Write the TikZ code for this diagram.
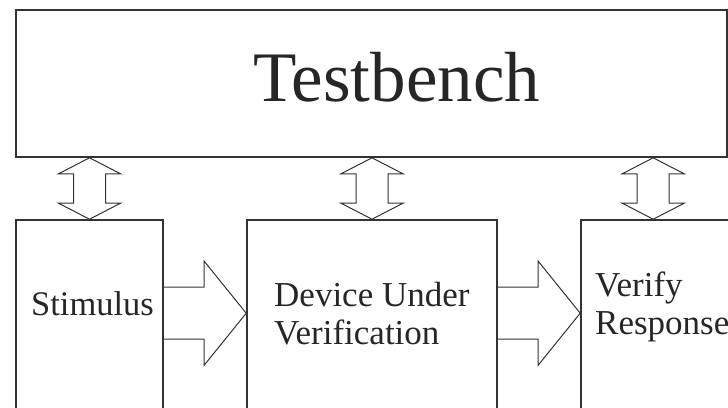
\documentclass[tikz,border=0pt]{standalone}
\usepackage{fontspec}
\setmainfont{Liberation Serif}
\usetikzlibrary{calc}

% double block arrow, #1 = upper tip, #2 = lower tip
\newcommand{\vblockarrow}[2]{%
\draw[blockarrow] (#1) -- ++(31,16) -- ++(-15,0) -- ($(#2)+(16,-16)$) -- ++(15,0) -- (#2)
  -- ++(-31,-16) -- ++(15,0) -- ($(#1)+(-16,16)$) -- ++(-15,0) -- cycle;}
% block arrow, #1 = tail (middle of shaft), #2 = tip
\newcommand{\hblockarrow}[2]{%
\draw[blockarrow] ($(#1)+(0,-26)$) -- ($(#2)+(-42,-26)$) -- ++(0,-26) -- (#2)
  -- ++(-42,52) -- ++(0,-26) -- ($(#1)+(0,26)$);}

\begin{document}
\begin{tikzpicture}[x=1pt, y=-1pt,
  box/.style={draw=black!80, line width=1.6pt, inner sep=0pt},
  blockarrow/.style={draw=black!80, line width=1pt, line join=miter},
  txt/.style={text=black!85, inner sep=0pt, anchor=base west}]
\useasboundingbox (0,0) rectangle (728,407);
\clip (0,0) rectangle (728,407);

\node[box, minimum width=711pt, minimum height=147pt] (tb) at (371.5,83.5) {};
\node[box, minimum width=147pt, minimum height=210pt] (stim) at (89.5,325) {};
\node[box, minimum width=250pt, minimum height=210pt] (duv) at (372,325) {};
\node[box, minimum width=160pt, minimum height=210pt] (ver) at (661,325) {};

\node[txt, font=\fontsize{71}{71}\selectfont] (tbtext) at (253,101) {Testbench};
\node[txt, font=\fontsize{34.5}{38}\selectfont] (stimtext) at (31,315) {Stimulus};
% base of a two-line node is the last line
\node[txt, align=left, font=\fontsize{35}{38}\selectfont] (duvtext) at (274,344) {Device Under\\Verification};
\node[txt, align=left, font=\fontsize{35}{38}\selectfont] (vertext) at (595,334) {Verify\\Response};

\coordinate (t1) at (tb.south -| stim.north);
\coordinate (t2) at (tb.south -| duv.north);
\coordinate (b3) at ($(ver.north west)+(73,0)$);
\coordinate (t3) at (tb.south -| b3);
\vblockarrow{t1}{stim.north}
\vblockarrow{t2}{duv.north}
\vblockarrow{t3}{b3}

\coordinate (s1) at ($(stim.north east)+(0,94)$);
\coordinate (d1) at (s1 -| duv.west);
\coordinate (s2) at ($(duv.north east)+(0,94)$);
\coordinate (d2) at (s2 -| ver.west);
\hblockarrow{s1}{d1}
\hblockarrow{s2}{d2}
\end{tikzpicture}
\end{document}
